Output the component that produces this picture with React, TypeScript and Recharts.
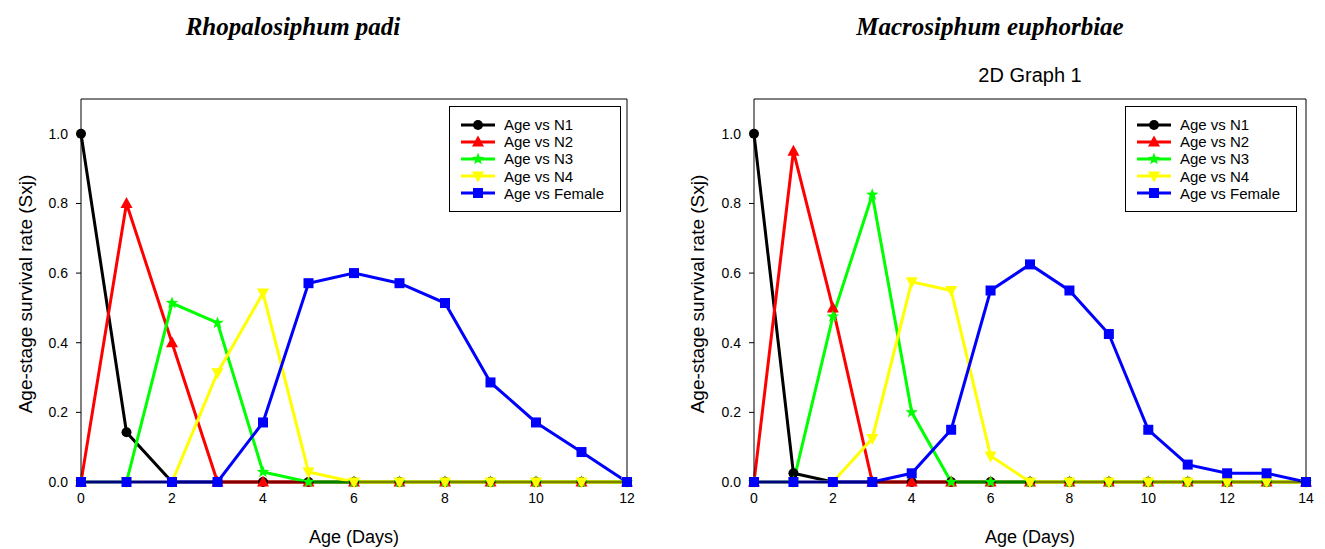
import React from 'react';
import { LineChart, Line, XAxis, YAxis, ReferenceLine } from 'recharts';

// Rhopalosiphum padi (days 0-12)
const agePadi = [0, 1, 2, 3, 4, 5, 6, 7, 8, 9, 10, 11, 12];
const n1Padi = [1.0, 0.143, 0, 0, 0, 0, 0, 0, 0, 0, 0, 0, 0];
const n2Padi = [0, 0.8, 0.4, 0, 0, 0, 0, 0, 0, 0, 0, 0, 0];
const n3Padi = [0, 0, 0.514, 0.457, 0.029, 0, 0, 0, 0, 0, 0, 0, 0];
const n4Padi = [0, 0, 0, 0.314, 0.543, 0.029, 0, 0, 0, 0, 0, 0, 0];
const femalePadi = [0, 0, 0, 0, 0.171, 0.571, 0.6, 0.571, 0.514, 0.286, 0.171, 0.086, 0];

// Macrosiphum euphorbiae (days 0-14)
const ageEuph = [0, 1, 2, 3, 4, 5, 6, 7, 8, 9, 10, 11, 12, 13, 14];
const n1Euph = [1.0, 0.025, 0, 0, 0, 0, 0, 0, 0, 0, 0, 0, 0, 0, 0];
const n2Euph = [0, 0.95, 0.5, 0, 0, 0, 0, 0, 0, 0, 0, 0, 0, 0, 0];
const n3Euph = [0, 0, 0.475, 0.825, 0.2, 0, 0, 0, 0, 0, 0, 0, 0, 0, 0];
const n4Euph = [0, 0, 0, 0.125, 0.575, 0.55, 0.075, 0, 0, 0, 0, 0, 0, 0, 0];
const femaleEuph = [0, 0, 0, 0, 0.025, 0.15, 0.55, 0.625, 0.55, 0.425, 0.15, 0.05, 0.025, 0.025, 0];

const yTicks = [0, 0.2, 0.4, 0.6, 0.8, 1.0];
const xTicksPadi = [0, 2, 4, 6, 8, 10, 12];
const xTicksEuph = [0, 2, 4, 6, 8, 10, 12, 14];

const seriesKeys = ['n1', 'n2', 'n3', 'n4', 'female'];
const seriesNames = ['Age vs N1', 'Age vs N2', 'Age vs N3', 'Age vs N4', 'Age vs Female'];
const seriesColors = ['#000000', '#ff0000', '#00ff00', '#ffff00', '#0000ff'];
const seriesShapes = ['circle', 'triangle', 'star', 'down', 'square'];

const FONT = '"Liberation Sans", Arial, sans-serif';

const buildRows = (age: number[], cols: number[][]) =>
  age.map((a, i) => {
    const row: any = { age: a };
    seriesKeys.forEach((k, j) => (row[k] = cols[j][i]));
    return row;
  });

const padiRows = buildRows(agePadi, [n1Padi, n2Padi, n3Padi, n4Padi, femalePadi]);
const euphRows = buildRows(ageEuph, [n1Euph, n2Euph, n3Euph, n4Euph, femaleEuph]);

const Marker = ({ shape, cx, cy, color }: { shape: string; cx: number; cy: number; color: string }) => {
  if (cx == null || cy == null) return null;
  if (shape === 'circle') return <circle cx={cx} cy={cy} r={5} fill={color} />;
  if (shape === 'square') return <rect x={cx - 5} y={cy - 5} width={10} height={10} fill={color} />;
  if (shape === 'triangle')
    return <polygon points={`${cx},${cy - 6.5} ${cx + 6},${cy + 4.5} ${cx - 6},${cy + 4.5}`} fill={color} />;
  if (shape === 'down')
    return <polygon points={`${cx},${cy + 6.5} ${cx + 6},${cy - 4.5} ${cx - 6},${cy - 4.5}`} fill={color} />;
  const pts: string[] = [];
  for (let i = 0; i < 10; i++) {
    const r = i % 2 === 0 ? 6.5 : 2.7;
    const a = -Math.PI / 2 + (i * Math.PI) / 5;
    pts.push(`${cx + r * Math.cos(a)},${cy + r * Math.sin(a)}`);
  }
  return <polygon points={pts.join(' ')} fill={color} />;
};

const LegendBox = ({ left, top }: { left: number; top: number }) => (
  <div
    style={{
      position: 'absolute',
      left,
      top,
      width: 172,
      height: 106,
      border: '1px solid #000',
      background: '#fff',
      boxSizing: 'border-box',
      fontFamily: FONT,
      fontSize: 15,
    }}
  >
    {seriesNames.map((n, i) => (
      <div key={n} style={{ position: 'absolute', left: 11, top: 9 + i * 17.2, height: 17, display: 'flex', alignItems: 'center' }}>
        <svg width={34} height={14}>
          <line x1={0} y1={7} x2={34} y2={7} stroke={seriesColors[i]} strokeWidth={3} />
          <Marker shape={seriesShapes[i]} cx={17} cy={7} color={seriesColors[i]} />
        </svg>
        <span style={{ marginLeft: 9, whiteSpace: 'nowrap' }}>{n}</span>
      </div>
    ))}
  </div>
);

const Panel = ({
  rows,
  xMax,
  xTicks,
  width,
  yAxisWidth,
  rightMargin,
}: {
  rows: any[];
  xMax: number;
  xTicks: number[];
  width: number;
  yAxisWidth: number;
  rightMargin: number;
}) => (
  <LineChart width={width} height={549} data={rows} margin={{ top: 99, right: rightMargin, bottom: 0, left: 0 }}>
    <XAxis
      dataKey="age"
      type="number"
      domain={[0, xMax]}
      ticks={xTicks}
      height={67}
      tickSize={5}
      tickMargin={6}
      stroke="#000"
      tick={{ fill: '#000', fontSize: 14, fontFamily: FONT }}
    />
    <YAxis
      type="number"
      domain={[0, 1.1]}
      ticks={yTicks}
      width={yAxisWidth}
      tickSize={5}
      tickMargin={8}
      stroke="#000"
      tickFormatter={(v: number) => v.toFixed(1)}
      tick={{ fill: '#000', fontSize: 14, fontFamily: FONT }}
    />
    <ReferenceLine y={1.1} stroke="#000" strokeWidth={1} />
    <ReferenceLine x={xMax} stroke="#000" strokeWidth={1} />
    {seriesKeys.map((k, i) => (
      <Line
        key={k}
        dataKey={k}
        type="linear"
        stroke={seriesColors[i]}
        strokeWidth={3}
        isAnimationActive={false}
        dot={(p: any) => <Marker key={`${k}-${p.index}`} shape={seriesShapes[i]} cx={p.cx} cy={p.cy} color={seriesColors[i]} />}
        activeDot={false}
      />
    ))}
  </LineChart>
);

const titleStyle: React.CSSProperties = {
  position: 'absolute',
  transform: 'translate(-50%, -50%)',
  fontFamily: '"Liberation Serif", "Times New Roman", serif',
  fontWeight: 'bold',
  fontStyle: 'italic',
  fontSize: 25,
  whiteSpace: 'nowrap',
};

const axisLabel: React.CSSProperties = {
  position: 'absolute',
  fontFamily: FONT,
  fontSize: 18,
  whiteSpace: 'nowrap',
};

export default function App() {
  return (
    <div style={{ position: 'absolute', left: 0, top: 0, width: 1325, height: 549, background: '#fff', overflow: 'hidden' }}>
      <div style={{ position: 'absolute', left: 0, top: 0 }}>
        <Panel rows={padiRows} xMax={12} xTicks={xTicksPadi} width={660} yAxisWidth={81} rightMargin={33} />
      </div>
      <div style={{ position: 'absolute', left: 670, top: 0 }}>
        <Panel rows={euphRows} xMax={14} xTicks={xTicksEuph} width={655} yAxisWidth={84} rightMargin={19} />
      </div>

      <div style={{ ...titleStyle, left: 293, top: 27 }}>Rhopalosiphum padi</div>
      <div style={{ ...titleStyle, left: 990, top: 27 }}>Macrosiphum euphorbiae</div>
      <div style={{ ...axisLabel, left: 1030, top: 75, fontSize: 20, transform: 'translate(-50%, -50%)' }}>2D Graph 1</div>

      <div style={{ ...axisLabel, left: 354, top: 537, transform: 'translate(-50%, -50%)' }}>Age (Days)</div>
      <div style={{ ...axisLabel, left: 1030, top: 537, transform: 'translate(-50%, -50%)' }}>Age (Days)</div>
      <div style={{ ...axisLabel, fontSize: 19, left: 26, top: 294, transform: 'translate(-50%, -50%) rotate(-90deg)' }}>
        Age-stage survival rate (Sxj)
      </div>
      <div style={{ ...axisLabel, fontSize: 19, left: 698, top: 294, transform: 'translate(-50%, -50%) rotate(-90deg)' }}>
        Age-stage survival rate (Sxj)
      </div>

      <LegendBox left={449} top={106} />
      <LegendBox left={1125} top={106} />
    </div>
  );
}
